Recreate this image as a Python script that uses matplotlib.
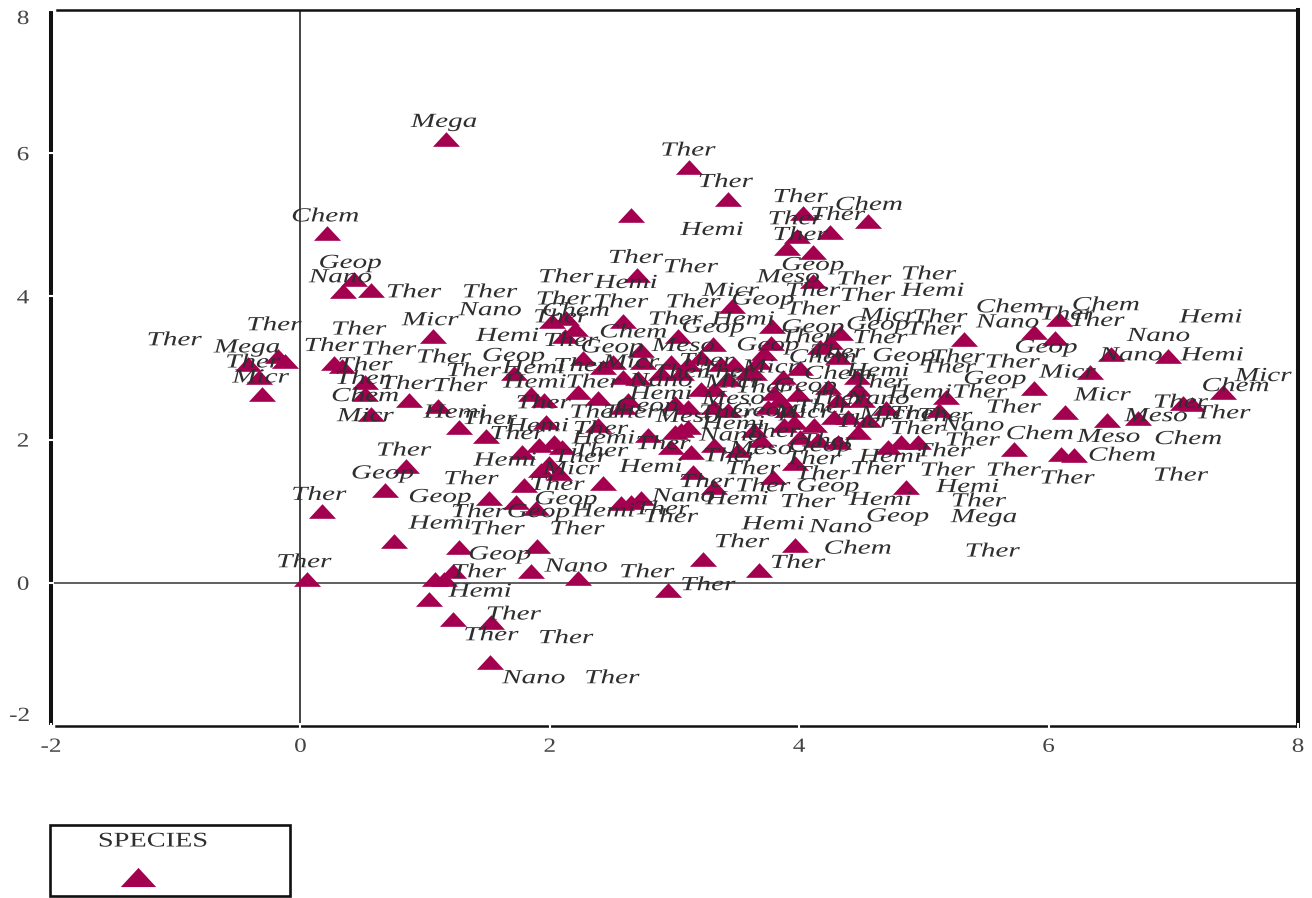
import matplotlib
matplotlib.use('Agg')
import matplotlib.pyplot as plt
import matplotlib.patheffects as path_effects
from matplotlib.lines import Line2D
from matplotlib.patches import Rectangle
from matplotlib.transforms import Affine2D

# Triangles, grouped roughly from the outside of the cloud to the middle
outer_points = [(1.17, 6.20), (3.12, 5.81), (3.43, 5.36), (2.65, 5.14), (4.03, 5.16), (4.55, 5.05),
                (4.25, 4.90), (0.21, 4.88), (3.98, 4.84), (3.90, 4.68), (4.11, 4.62), (0.43, 4.24),
                (0.34, 4.07), (0.57, 4.09), (2.70, 4.30), (4.11, 4.21), (3.46, 3.87), (3.78, 3.58),
                (1.06, 3.44), (2.02, 3.65), (2.13, 3.70), (2.20, 3.55), (2.12, 3.45), (2.59, 3.66),
                (3.03, 3.45), (3.31, 3.33)]
right_points = [(5.32, 3.40), (5.88, 3.50), (6.08, 3.68), (6.05, 3.42), (6.50, 3.20), (6.96, 3.17),
                (6.33, 2.95), (5.88, 2.72), (7.08, 2.51), (7.15, 2.50), (7.40, 2.67), (6.13, 2.38),
                (6.47, 2.28), (6.72, 2.30), (5.72, 1.87), (6.10, 1.80), (6.20, 1.79), (5.18, 2.60),
                (5.12, 2.42)]
left_points = [(-0.18, 3.17), (-0.12, 3.10), (-0.42, 3.05), (-0.33, 2.87), (-0.31, 2.64), (0.27, 3.07),
               (0.33, 3.03), (0.52, 2.80), (0.52, 2.63), (0.87, 2.55), (1.10, 2.47), (0.57, 2.36),
               (1.27, 2.17)]
lower_points = [(0.85, 1.63), (0.68, 1.30), (0.17, 1.00), (0.75, 0.58), (1.27, 0.50), (1.90, 0.51),
                (1.85, 0.17), (1.22, 0.16), (1.08, 0.05), (1.15, 0.05), (0.05, 0.05), (2.23, 0.07),
                (1.03, -0.22), (1.22, -0.50), (1.53, -0.55), (1.52, -1.10), (2.95, -0.10), (3.23, 0.33),
                (3.68, 0.18), (3.97, 0.53)]
middle_points = [(2.73, 3.25), (2.27, 3.14), (1.71, 2.93), (4.25, 3.37), (4.33, 3.49), (4.17, 3.30),
                 (3.77, 3.35), (3.72, 3.21), (3.67, 3.09), (4.01, 3.00), (4.31, 3.16), (2.51, 3.09),
                 (2.43, 3.02), (2.75, 3.09), (2.97, 3.09), (3.21, 3.16), (3.11, 3.05), (3.37, 3.05),
                 (3.48, 3.05), (2.59, 2.88), (2.71, 2.86), (2.89, 2.93), (3.05, 2.93), (3.64, 2.93),
                 (3.59, 2.95), (3.87, 2.88), (4.46, 2.88), (4.47, 2.70), (4.23, 2.74), (3.99, 2.63),
                 (4.31, 2.56), (4.50, 2.56), (4.70, 2.44), (1.85, 2.63), (1.95, 2.56), (2.23, 2.67),
                 (2.39, 2.58), (2.63, 2.56), (2.59, 2.46), (3.43, 2.84), (3.32, 2.70), (3.21, 2.70),
                 (3.80, 2.65), (3.85, 2.56), (3.75, 2.46), (3.91, 2.42), (3.11, 2.46), (3.00, 2.51),
                 (3.43, 2.42), (3.32, 2.46), (4.28, 2.32), (4.39, 2.31), (4.55, 2.28), (4.47, 2.11),
                 (3.88, 2.21), (3.96, 2.24), (4.12, 2.21), (4.01, 2.04), (4.15, 2.00), (4.31, 1.96),
                 (3.64, 2.14), (3.69, 2.00), (3.51, 1.86), (3.32, 1.93), (3.05, 2.14), (3.00, 2.10),
                 (3.11, 2.18), (2.97, 1.90), (3.13, 1.83), (2.79, 2.07), (2.39, 2.21), (1.97, 2.25),
                 (1.49, 2.05), (1.91, 1.93), (2.03, 1.96), (2.10, 1.90), (1.78, 1.82), (1.99, 1.68),
                 (1.93, 1.58), (2.07, 1.54), (1.79, 1.37), (2.43, 1.40), (3.15, 1.55), (3.79, 1.48),
                 (3.32, 1.34), (3.97, 1.68), (4.86, 1.34), (4.71, 1.90), (4.82, 1.96), (4.95, 1.97),
                 (1.51, 1.19), (1.73, 1.13), (1.89, 1.05), (2.57, 1.12), (2.65, 1.13), (2.73, 1.19)]

# Species labels, they sit away from the triangles in the source so they get their own positions
ther_labels = [(3.11, 6.03), (3.41, 5.59), (4.01, 5.38), (3.97, 5.07), (4.31, 5.13), (4.01, 4.85),
               (0.91, 4.05), (1.52, 4.05), (2.69, 4.53), (3.13, 4.40), (2.13, 4.26), (4.52, 4.23),
               (5.04, 4.30), (4.55, 4.00), (4.11, 4.07), (3.15, 3.91), (2.11, 3.95), (2.57, 3.91),
               (4.11, 3.81), (2.09, 3.70), (3.01, 3.67), (5.13, 3.70), (5.08, 3.53), (4.07, 3.42),
               (4.65, 3.41), (2.17, 3.37), (4.31, 3.21), (2.25, 3.02), (3.26, 3.09), (3.05, 2.93),
               (3.42, 2.93), (2.35, 2.79), (4.65, 2.79), (3.71, 2.72), (4.31, 2.56), (1.95, 2.50),
               (2.38, 2.37), (2.65, 2.37), (4.19, 2.44), (4.95, 2.35), (3.42, 2.37), (1.52, 2.28),
               (4.52, 2.24), (2.41, 2.14), (3.79, 2.10), (4.95, 2.14), (1.74, 2.07), (4.23, 1.97),
               (2.41, 1.83), (2.91, 1.93), (3.45, 1.76), (2.25, 1.75), (4.11, 1.72), (3.63, 1.58),
               (4.63, 1.58), (4.19, 1.51), (2.06, 1.36), (3.26, 1.40), (3.71, 1.34), (1.37, 1.44),
               (4.07, 1.12), (2.90, 1.02), (2.97, 0.91), (1.58, 0.74), (2.22, 0.74), (3.54, 0.56),
               (1.43, 0.98), (0.15, 1.22), (0.83, 1.84), (0.03, 0.28), (2.78, 0.14), (1.43, 0.14),
               (3.27, -0.04), (1.71, -0.45), (1.53, -0.74), (2.13, -0.78), (2.50, -1.34), (3.99, 0.27),
               (-0.21, 3.59), (-1.01, 3.38), (-0.38, 3.07), (0.25, 3.30), (0.71, 3.25), (0.47, 3.53),
               (1.15, 3.14), (1.39, 2.95), (0.52, 3.03), (0.50, 2.84), (0.86, 2.77), (1.28, 2.74),
               (6.15, 3.74), (6.39, 3.65), (5.27, 3.14), (5.20, 3.00), (5.71, 3.07), (5.45, 2.65),
               (7.06, 2.51), (5.72, 2.44), (5.17, 2.32), (7.40, 2.36), (5.39, 1.98), (5.16, 1.83),
               (5.19, 1.56), (5.72, 1.56), (6.15, 1.45), (7.06, 1.49), (5.44, 1.13), (5.55, 0.43)]
hemi_labels = [(3.30, 4.92), (2.61, 4.18), (5.07, 4.07), (3.55, 3.67), (1.66, 3.44), (1.87, 2.99),
               (4.63, 2.95), (1.88, 2.79), (4.97, 2.65), (2.89, 2.63), (3.47, 2.21), (1.90, 2.18),
               (2.43, 2.01), (1.64, 1.70), (4.73, 1.75), (2.81, 1.61), (3.50, 1.16), (4.65, 1.15),
               (2.43, 0.99), (3.79, 0.81), (1.12, 0.82), (1.44, -0.13), (1.24, 2.37), (7.30, 3.70),
               (7.31, 3.17), (5.35, 1.33)]
geop_labels = [(0.40, 4.46), (4.11, 4.43), (3.71, 3.95), (3.31, 3.56), (4.11, 3.56), (4.63, 3.60),
               (2.50, 3.28), (3.75, 3.31), (1.71, 3.16), (4.84, 3.16), (4.05, 2.74), (2.78, 2.46),
               (3.71, 2.39), (4.17, 1.90), (4.23, 1.34), (2.13, 1.16), (1.91, 0.98), (4.79, 0.92),
               (1.12, 1.19), (0.66, 1.52), (1.60, 0.39), (5.98, 3.28), (5.57, 2.84)]
chem_labels = [(4.56, 5.27), (0.20, 5.11), (2.21, 3.79), (2.67, 3.49), (4.19, 3.14), (4.31, 2.91),
               (4.47, 0.47), (0.52, 2.60), (5.69, 3.84), (6.46, 3.87), (7.50, 2.74), (5.93, 2.07),
               (7.12, 2.00), (6.59, 1.77)]
micr_labels = [(3.45, 4.07), (4.71, 3.72), (2.65, 3.07), (3.77, 3.00), (3.47, 2.79), (4.71, 2.35),
               (4.03, 2.37), (2.17, 1.58), (-0.32, 2.86), (1.04, 3.66), (0.52, 2.32), (6.15, 2.93),
               (7.72, 2.88), (6.43, 2.61)]
nano_labels = [(0.32, 4.26), (2.89, 2.81), (4.63, 2.56), (3.45, 2.05), (3.07, 1.20), (4.33, 0.77),
               (2.21, 0.22), (1.87, -1.34), (1.52, 3.80), (5.67, 3.63), (6.88, 3.44), (6.66, 3.17),
               (5.39, 2.19)]
meso_labels = [(3.91, 4.26), (3.07, 3.30), (3.47, 2.56), (3.10, 2.31), (3.69, 1.86), (6.86, 2.32),
               (6.48, 2.03)]
mega_labels = [(1.15, 6.43), (-0.43, 3.28), (5.48, 0.91)]

x_ticks = [-2, 0, 2, 4, 6, 8]
y_ticks = [-2, 0, 2, 4, 6, 8]

plum = '#A3004F'
ink = '#2e2e2e'
triangle = [(-1, -0.54), (1, -0.54), (0, 0.54)]


class StretchX(path_effects.AbstractPathEffect):
    # the source picture is squeezed vertically, so the glyphs have to be wide as well

    def __init__(self, factor):
        super().__init__()
        self.factor = factor

    def draw_path(self, renderer, gc, tpath, affine, rgbFace=None):
        box = tpath.get_extents()
        mid = (box.x0 + box.x1) / 2
        wide = Affine2D().translate(-mid, 0).scale(self.factor, 1).translate(mid, 0) + affine
        renderer.draw_path(gc, tpath, wide, rgbFace)


plt.rcParams['font.family'] = ['Liberation Serif', 'DejaVu Serif']
plt.rcParams['axes.unicode_minus'] = False

W, H = 1312, 898
fig = plt.figure(figsize=(W / 100, H / 100), dpi=100)
ax = fig.add_axes([51 / W, (H - 726) / H, 1247 / W, 716 / H])
ax.set_xlim(-2, 8)
ax.set_ylim(-2, 8)

# Cross at the origin
ax.axhline(0, color='#444444', lw=1.2, zorder=1)
ax.axvline(0, color='#444444', lw=1.4, zorder=1)

# Triangles
all_points = outer_points + right_points + left_points + lower_points + middle_points
ax.plot([p[0] for p in all_points], [p[1] for p in all_points], linestyle='none',
        marker=triangle, markersize=19.5, markerfacecolor=plum, markeredgewidth=0, zorder=3)

# Labels
label_groups = [('Ther', ther_labels), ('Hemi', hemi_labels), ('Geop', geop_labels), ('Chem', chem_labels),
                ('Micr', micr_labels), ('Nano', nano_labels), ('Meso', meso_labels), ('Mega', mega_labels)]
for name, positions in label_groups:
    for x, y in positions:
        ax.text(x, y, name, style='italic', fontsize=14.4, color=ink, ha='center', va='center',
                zorder=4, path_effects=[StretchX(1.46)])

# Frame with small white gaps at the ticks
for side, width in [('left', 2.9), ('right', 2.9), ('top', 1.8), ('bottom', 1.8)]:
    ax.spines[side].set_linewidth(width)
    ax.spines[side].set_color('#111111')
ax.spines['left'].set_bounds(-1.96, 7.96)
ax.spines['bottom'].set_bounds(-1.96, 8)
ax.spines['top'].set_bounds(-1.95, 8)
ax.set_axisbelow(False)

ax.set_xticks(x_ticks)
ax.set_yticks(y_ticks)
ax.tick_params(axis='both', direction='inout', length=5, width=1.5, color='white',
               labelsize=14.5, labelcolor='#444444')
ax.tick_params(axis='x', pad=6)
ax.tick_params(axis='y', pad=14)
for label in ax.get_xticklabels() + ax.get_yticklabels():
    label.set_path_effects([StretchX(1.25)])
ax.get_yticklabels()[0].set_va('bottom')
ax.get_yticklabels()[-1].set_va('top')

# Legend box under the plot
fig.add_artist(Rectangle((50 / W, (H - 896) / H), 240 / W, 71 / H, transform=fig.transFigure,
                         facecolor='none', edgecolor='#111111', linewidth=1.9))
fig.text(153 / W, (H - 842) / H, 'SPECIES', fontsize=15, color=ink, ha='center', va='center',
         path_effects=[StretchX(1.36)])
fig.add_artist(Line2D([138 / W], [(H - 877) / H], transform=fig.transFigure, linestyle='none',
                      marker=triangle, markersize=25.5, markerfacecolor=plum, markeredgewidth=0))

fig.savefig('out.png', dpi=100)
